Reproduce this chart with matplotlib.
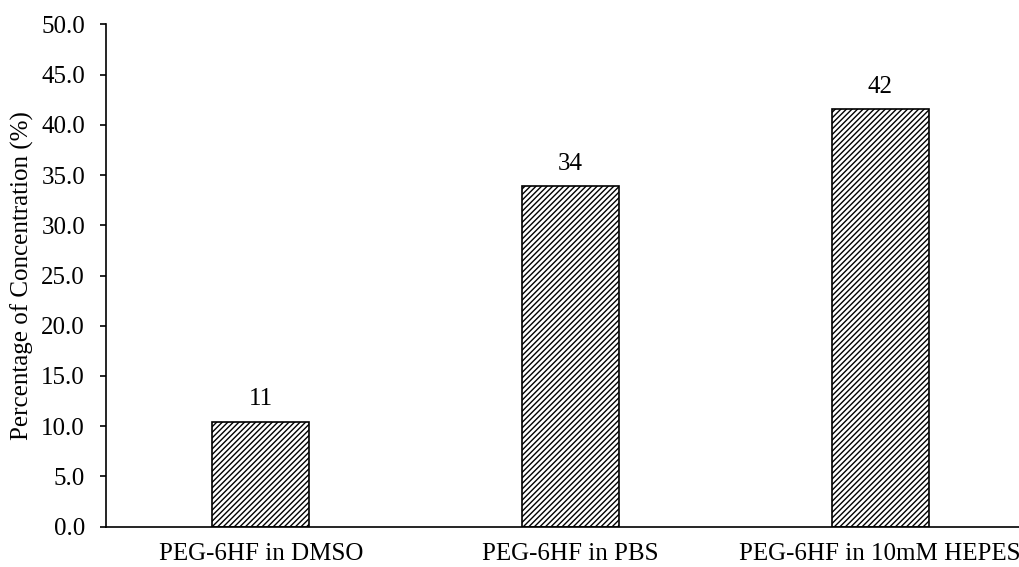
import matplotlib
matplotlib.use("Agg")
import matplotlib.pyplot as plt

# data
categories = ["PEG-6HF in DMSO", "PEG-6HF in PBS", "PEG-6HF in 10mM HEPES"]
values = [10.45, 33.95, 41.55]
bar_labels = ["11", "34", "42"]
yticks = [0, 5, 10, 15, 20, 25, 30, 35, 40, 45, 50]

plt.rcParams["font.family"] = ["Liberation Serif", "DejaVu Serif"]
plt.rcParams["hatch.linewidth"] = 1.0

W, H = 1019, 567
fig = plt.figure(figsize=(W / 100, H / 100), dpi=100)
ax = fig.add_axes([106 / W, (H - 526.5) / H, (1035 - 106) / W, (526.5 - 24.5) / H])

x = range(len(categories))
bars = ax.bar(x, values, width=0.313, color="white", edgecolor="black",
              linewidth=1.2, hatch="//////")

for b, lab in zip(bars, bar_labels):
    ax.annotate(lab, (b.get_x() + b.get_width() / 2, b.get_height()),
                xytext=(0, 8), textcoords="offset points",
                ha="center", va="bottom", fontsize=18)

ax.set_xlim(-0.5, 2.5)
ax.set_ylim(0, 50)
ax.set_yticks(yticks)
ax.set_yticklabels([f"{t:.1f}" for t in yticks])
ax.set_xticks(list(x))
ax.set_xticklabels(categories)
ax.tick_params(axis="y", labelsize=18, length=4.3, width=1.2, pad=10.8)
ax.tick_params(axis="x", labelsize=18, length=0, pad=12)
ax.set_ylabel("Percentage of Concentration (%)", fontsize=18, labelpad=5)

ax.spines["top"].set_visible(False)
ax.spines["right"].set_visible(False)
ax.spines["left"].set_linewidth(1.2)
ax.spines["bottom"].set_linewidth(1.2)

fig.savefig("out.png", dpi=100)
